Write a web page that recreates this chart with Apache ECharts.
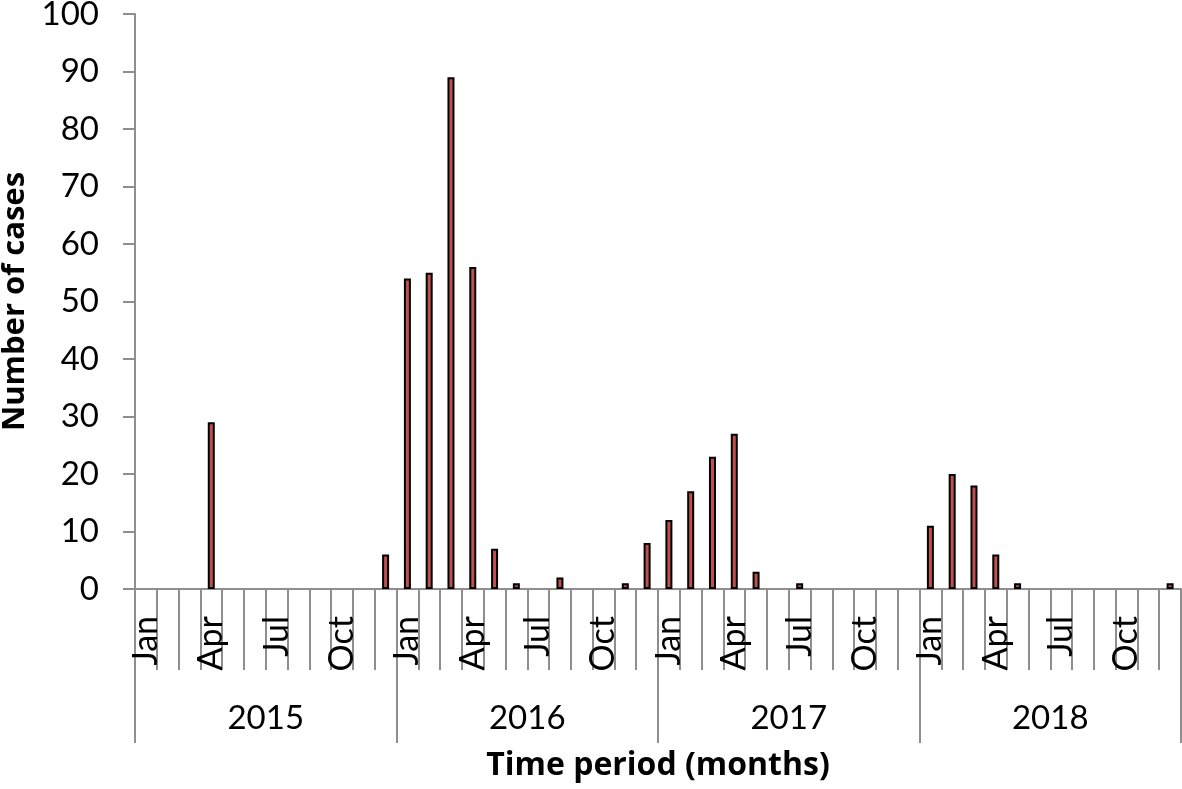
<!DOCTYPE html>
<html>
<head>
<meta charset="utf-8">
<script src="https://cdn.jsdelivr.net/npm/echarts@6/dist/echarts.min.js"></script>
<style>
html,body{margin:0;padding:0;background:#fff;}
#chart{width:1182px;height:789px;}
</style>
</head>
<body>
<div id="chart"></div>
<script>
const years = ['2015', '2016', '2017', '2018'];
const months = ['Jan','Feb','Mar','Apr','May','Jun','Jul','Aug','Sep','Oct','Nov','Dec'];
const cases2015 = [0, 0, 0, 29, 0, 0, 0, 0, 0, 0, 0, 6];
const cases2016 = [54, 55, 89, 56, 7, 1, 0, 2, 0, 0, 1, 8];
const cases2017 = [12, 17, 23, 27, 3, 0, 1, 0, 0, 0, 0, 0];
const cases2018 = [11, 20, 18, 6, 1, 0, 0, 0, 0, 0, 0, 1];
const yTicks = [0, 10, 20, 30, 40, 50, 60, 70, 80, 90, 100];

const categories = [];
years.forEach(y => months.forEach(m => categories.push(m)));
const values = [].concat(cases2015, cases2016, cases2017, cases2018);
const barData = values.map(v => v === 0 ? {value: 0, itemStyle: {borderWidth: 0}} : v);

const FONT = 'Lato';
const TFONT = 'Open Sans';
const AX = '#8e8e8e';

const chart = echarts.init(document.getElementById('chart'), null, {renderer: 'canvas'});
chart.setOption({
  animation: false,
  backgroundColor: '#ffffff',
  textStyle: {fontFamily: FONT, color: '#000'},
  grid: {left: 135, right: 1, top: 14, bottom: 200, containLabel: false, outerBoundsMode: 'none'},
  xAxis: [
    {
      type: 'category',
      gridIndex: 0,
      position: 'bottom',
      data: categories,
      boundaryGap: true,
      axisLine: {show: true, lineStyle: {color: AX, width: 2}},
      axisTick: {show: true, interval: 0, length: 81, lineStyle: {color: AX, width: 2}},
      axisLabel: {
        interval: (i) => i % 3 === 0,
        rotate: 90,
        margin: 27,
        fontSize: 34,
        fontFamily: FONT,
        color: '#000'
      }
    },
    {
      type: 'category',
      gridIndex: 0,
      position: 'bottom',
      data: years,
      boundaryGap: true,
      axisLine: {show: false},
      axisTick: {show: true, interval: 0, length: 154, lineStyle: {color: AX, width: 2}},
      axisLabel: {interval: 0, margin: 113, fontSize: 33, fontFamily: FONT, color: '#000'},
      name: 'Time period (months)',
      nameLocation: 'middle',
      nameGap: 161,
      nameTextStyle: {fontSize: 32, fontWeight: 'bold', fontFamily: TFONT, color: '#000'}
    }
  ],
  yAxis: {
    type: 'value',
    min: yTicks[0],
    max: yTicks[yTicks.length - 1],
    interval: 10,
    axisLine: {show: true, lineStyle: {color: AX, width: 2}},
    axisTick: {show: true, length: 12, lineStyle: {color: AX, width: 2}},
    splitLine: {show: false},
    axisLabel: {margin: 36, fontSize: 33, fontFamily: FONT, color: '#000'},
    name: 'Number of cases',
    nameLocation: 'middle',
    nameGap: 104,
    nameTextStyle: {fontSize: 31, fontWeight: 'bold', fontFamily: TFONT, color: '#000'}
  },
  series: [{
    type: 'bar',
    xAxisIndex: 0,
    data: barData,
    barWidth: 7,
    itemStyle: {color: '#C0504D', borderColor: '#000', borderWidth: 2}
  }]
});
</script>
</body>
</html>
